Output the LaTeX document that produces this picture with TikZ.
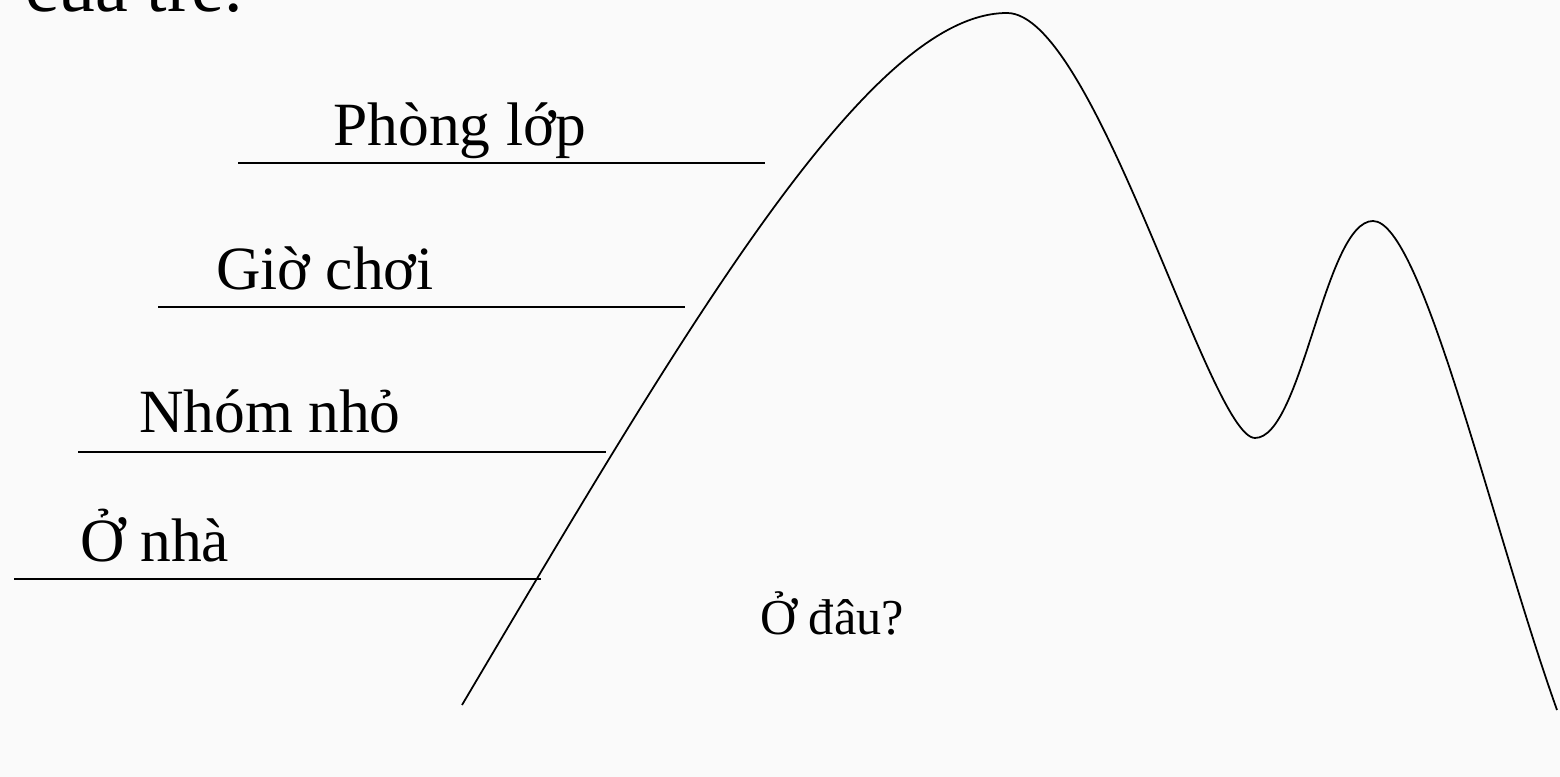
\documentclass[tikz,border=0pt]{standalone}
\usepackage{fontspec}
\setmainfont{Liberation Serif}
\usepackage{tikz}

\definecolor{paper}{RGB}{250,250,250}
\tikzset{
  lbl/.style={anchor=base, inner sep=0pt, font=\fontsize{17.5}{20}\selectfont},
  hline/.style={line width=0.6pt},
  hill/.style={line width=0.5pt}
}

\begin{document}
\begin{tikzpicture}[x=0.1mm,y=-0.1mm]
        \fill[paper] (0,0) rectangle (1560,777);
        \useasboundingbox (0,0) rectangle (1560,777);
        \node[anchor=base west, inner sep=0pt, font=\fontsize{21}{24}\selectfont] (tit) at (25,12) {của trẻ.}; % Títol tallat
        % Corba (muntanyes)
        \coordinate (s) at (462,705); \coordinate (p1) at (1007,13);
        \coordinate (v) at (1255,438); \coordinate (p2) at (1373,221);
        \coordinate (e) at (1557,710);
        \draw[hill] (s) .. controls (690,320) and (870,13) .. (p1)
                        .. controls (1095,13) and (1210,438) .. (v)
                        .. controls (1302,438) and (1325,221) .. (p2)
                        .. controls (1422,221) and (1492,528) .. (e);
        % Linies horitzontals
        \coordinate (a1) at (238,163); \coordinate (a2) at (765,163);
        \coordinate (b1) at (158,307); \coordinate (b2) at (685,307);
        \coordinate (c1) at (78,452);  \coordinate (c2) at (606,452);
        \coordinate (d1) at (14,579);  \coordinate (d2) at (541,579);
        \draw[hline] (a1) -- (a2); \draw[hline] (b1) -- (b2);
        \draw[hline] (c1) -- (c2); \draw[hline] (d1) -- (d2);
        \node[lbl] (phong) at (460,146) {Phòng lớp};
        \node[lbl] (gio) at (325,290) {Giờ chơi};
        \node[lbl] (nhom) at (270,433) {Nhóm nhỏ};
        \node[lbl, anchor=base west] (nha) at (80,562) {Ở nhà};
        \node[lbl, font=\fontsize{14.3}{17}\selectfont] (dau) at (832,635) {Ở đâu?};
    \end{tikzpicture}
\end{document}
